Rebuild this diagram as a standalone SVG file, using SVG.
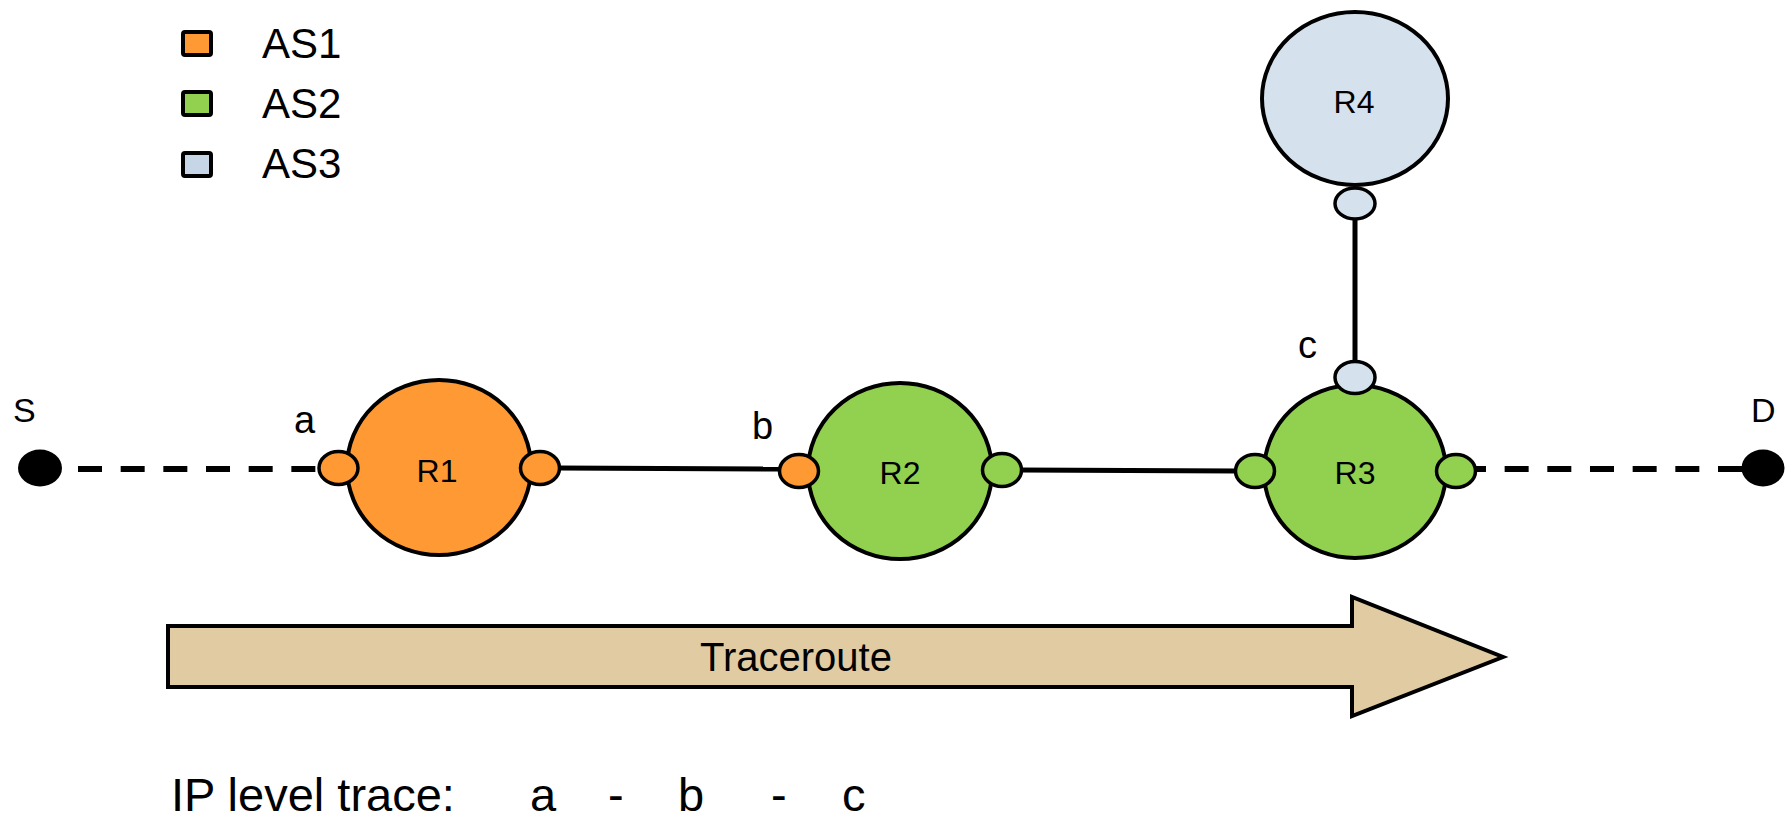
<svg xmlns="http://www.w3.org/2000/svg" width="1785" height="819" viewBox="0 0 1785 819">
<style>
.t{font-family:"Liberation Sans",Arial,sans-serif;fill:#000}
.node{stroke:#000;stroke-width:4}
.port{stroke:#000;stroke-width:3.5}
.o{fill:#FF9933}
.g{fill:#92D050}
.b{fill:#D5E2EE}
.ln{stroke:#000;stroke-width:5;fill:none}
.dash{stroke:#000;stroke-width:6;fill:none;stroke-dasharray:24 18.67}
.lab{font-size:38px}
.rl{font-size:32px;text-anchor:middle}
</style>
<rect width="1785" height="819" fill="#fff"/>
<g id="legend">
  <rect x="183" y="32" width="28" height="23" rx="2" class="o" stroke="#000" stroke-width="4"/>
  <text x="262" y="58" class="t" font-size="42">AS1</text>
  <rect x="183" y="92" width="28" height="23" rx="2" class="g" stroke="#000" stroke-width="4"/>
  <text x="262" y="118" class="t" font-size="42">AS2</text>
  <rect x="183" y="153" width="28" height="23" rx="2" fill="#C6D6E6" stroke="#000" stroke-width="4"/>
  <text x="262" y="178" class="t" font-size="42">AS3</text>
</g>
<g id="connectors">
  <line x1="78" y1="469" x2="318" y2="469" class="dash"/>
  <line x1="1742" y1="469" x2="1476" y2="469" class="dash"/>
  <line x1="558" y1="468" x2="781" y2="469" class="ln"/>
  <line x1="1020" y1="470" x2="1237" y2="471" class="ln"/>
  <line x1="1355" y1="218" x2="1355" y2="363" class="ln"/>
</g>
<g id="S">
  <ellipse cx="40" cy="468" rx="22" ry="18.5" fill="#000"/>
  <text x="13" y="422" class="t" font-size="34">S</text>
</g>
<g id="D">
  <ellipse cx="1763" cy="468" rx="21.5" ry="18.5" fill="#000"/>
  <text x="1751" y="422" class="t" font-size="34">D</text>
</g>
<g id="R1">
  <ellipse cx="439" cy="467.5" rx="92" ry="87.5" class="node o"/>
  <text x="437" y="482" class="t rl">R1</text>
  <ellipse cx="338.5" cy="468" rx="19.5" ry="16.5" class="port o"/>
  <ellipse cx="540" cy="468" rx="19.5" ry="16.5" class="port o"/>
  <text x="294" y="433" class="t lab">a</text>
</g>
<g id="R2">
  <ellipse cx="900" cy="471" rx="92" ry="88" class="node g"/>
  <text x="900" y="484" class="t rl">R2</text>
  <ellipse cx="799" cy="471" rx="19.5" ry="16.5" class="port o"/>
  <ellipse cx="1002" cy="470" rx="19.5" ry="16.5" class="port g"/>
  <text x="752" y="439" class="t lab">b</text>
</g>
<g id="R3">
  <ellipse cx="1355" cy="471.5" rx="91" ry="86.5" class="node g"/>
  <text x="1355" y="484" class="t rl">R3</text>
  <ellipse cx="1255" cy="471" rx="19.5" ry="16.5" class="port g"/>
  <ellipse cx="1456" cy="471" rx="19.5" ry="16.5" class="port g"/>
  <ellipse cx="1355" cy="377.5" rx="20" ry="16" class="port b"/>
  <text x="1298" y="358" class="t lab">c</text>
</g>
<g id="R4">
  <ellipse cx="1355" cy="98.5" rx="93" ry="86.5" class="node b"/>
  <text x="1354" y="113" class="t rl">R4</text>
  <ellipse cx="1355" cy="203.5" rx="20" ry="15.5" class="port b"/>
</g>
<g id="traceroute">
  <path d="M168,626 L1352,626 L1352,597 L1503,657 L1352,716 L1352,687 L168,687 Z" fill="#E0CBA2" stroke="#000" stroke-width="4"/>
  <text x="796" y="671" class="t" font-size="40" text-anchor="middle">Traceroute</text>
</g>
<g id="trace">
  <text y="811" class="t" font-size="47"><tspan x="171">IP level trace:</tspan><tspan x="530">a</tspan><tspan x="608">-</tspan><tspan x="678">b</tspan><tspan x="771">-</tspan><tspan x="842">c</tspan></text>
</g>
</svg>
